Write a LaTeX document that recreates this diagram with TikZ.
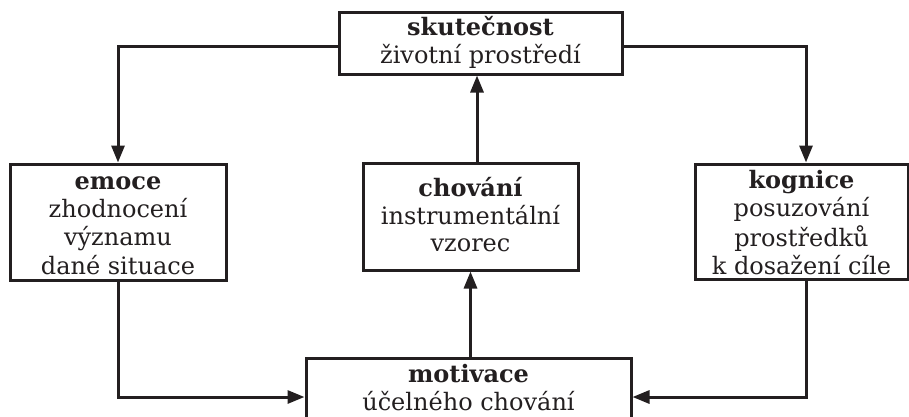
\documentclass[tikz,border=0pt]{standalone}
\usepackage{fontspec}
\setmainfont{DejaVu Serif}
\usetikzlibrary{arrows.meta}
\definecolor{ink}{RGB}{35,31,32}
\begin{document}
\begin{tikzpicture}[x=1pt,y=-1pt,
  box/.style={draw=ink,line width=3pt,inner sep=0pt},
  lbl/.style={text=ink,align=center,inner sep=0pt,
    font=\fontsize{24}{26.5}\selectfont},
  arr/.style={draw=ink,line width=3pt,-{Triangle[length=17pt,width=13pt]}}]
\useasboundingbox (0,0) rectangle (909,416);
\node[box,minimum width=283pt,minimum height=62pt] (top) at (480.5,43) {};
\node[box,minimum width=216pt,minimum height=116pt] (emo) at (118,222) {};
\node[box,minimum width=215pt,minimum height=107pt] (chov) at (470.5,216.5) {};
\node[box,minimum width=213pt,minimum height=115pt] (kog) at (801.5,221.5) {};
\node[box,minimum width=325pt,minimum height=70pt] (mot) at (468.5,393) {};
\node[lbl] (topT) at (480.5,44) {\strut\textbf{skutečnost}\\\strut životní prostředí};
\node[lbl] (emoT) at (118,226.5) {\strut\textbf{emoce}\\\strut zhodnocení\\\strut významu\\\strut dané situace};
\node[lbl] (chovT) at (470.5,218.2) {\strut\textbf{chování}\\\strut instrumentální\\\strut vzorec};
\node[lbl] (kogT) at (801.5,226.5) {\strut\textbf{kognice}\\\strut posuzování\\\strut prostředků\\\strut k dosažení cíle};
\node[lbl] (motT) at (468.5,391) {\strut\textbf{motivace}\\\strut účelného chování};
\draw[arr] ([yshift=-3pt]top.west) -| (emo.north);
\draw[arr] ([yshift=-3pt]top.east) -| ([xshift=4.5pt]kog.north);
\draw[arr] ([xshift=6.5pt]chov.north) -- ([xshift=6.5pt]chov.north |- top.south);
\draw[arr] (mot.north -| chov.south) -- (chov.south);
\draw[arr] (emo.south) |- ([yshift=-4pt]mot.west);
\draw[arr] ([xshift=4.5pt]kog.south) |- ([yshift=-4pt]mot.east);
\end{tikzpicture}
\end{document}
